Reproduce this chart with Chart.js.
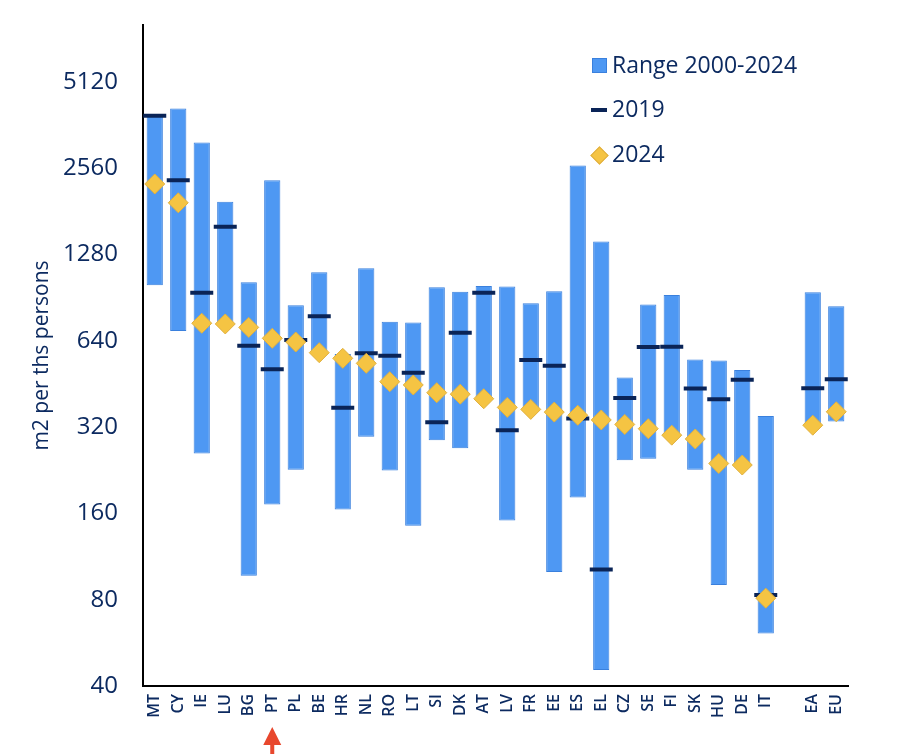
<!DOCTYPE html>
<html>
<head>
<meta charset="utf-8">
<script src="https://cdn.jsdelivr.net/npm/chart.js@4.4.1/dist/chart.umd.min.js"></script>
<style>
  html, body { margin: 0; padding: 0; background: #fff; }
  #wrap { position: relative; width: 900px; height: 754px; }
  .lg { position: absolute; font-family: 'Open Sans', sans-serif; font-size: 23px; line-height: 30px; color: #0c2a60; white-space: nowrap; }
  .mk { position: absolute; }
</style>
</head>
<body>
<div id="wrap">
  <canvas id="chart" width="900" height="754"></canvas>
  <div class="mk" style="left:592px;top:58px;width:13px;height:13px;background:#4e98f3;border:1px solid #3a80dd;"></div>
  <div class="lg" style="left:612px;top:49px;">Range 2000-2024</div>
  <div class="mk" style="left:591px;top:108px;width:16px;height:4px;background:#0a2457;"></div>
  <div class="lg" style="left:612px;top:93px;">2019</div>
  <div class="mk" style="left:593px;top:149px;width:11px;height:11px;background:#f5c443;border:1px solid #e0b040;transform:rotate(45deg);"></div>
  <div class="lg" style="left:612px;top:138px;">2024</div>
</div>
<script>
var countries = ['MT','CY','IE','LU','BG','PT','PL','BE','HR','NL','RO','LT','SI','DK','AT','LV','FR','EE','ES','EL','CZ','SE','FI','SK','HU','DE','IT','','EA','EU'];
var rangeMin = [1000,693,259,733,97,172,227,582,165,296,226,145,288,270,402,151,369,100,182,45.5,245,248,300,227,90,236,61,null,325,335];
var rangeMax = [3900,4140,3150,1956,1024,2324,851,1110,576,1146,746,742,984,949,994,990,865,953,2616,1422,477,857,925,551,547,506,350,null,945,845];
var value2019 = [3900,2324,942,1600,615,509,644,780,374,579,568,495,333,683,942,312,549,524,343,102,404,609,610,436,400,468,83,null,437,470];
var value2024 = [2256,1940,737,733,713,653,634,582,556,534,461,449,422,417,402,375,369,361,352,339,327,316,300,291,239,236,81,null,325,362];
var yTicks = [40,80,160,320,640,1280,2560,5120];

var navy = '#0c2a60';

var ranges = rangeMin.map(function(lo, i) {
  return lo === null ? null : [lo, rangeMax[i]];
});

// red arrow under PT
var arrowPlugin = {
  id: 'ptArrow',
  afterDraw: function(chart) {
    var ctx = chart.ctx;
    var x = chart.scales.x.getPixelForValue(countries.indexOf('PT'));
    ctx.save();
    ctx.fillStyle = '#e8472d';
    ctx.beginPath();
    ctx.moveTo(x, 727);
    ctx.lineTo(x + 9, 745);
    ctx.lineTo(x - 9, 745);
    ctx.closePath();
    ctx.fill();
    ctx.fillRect(x - 2, 744, 4, 12);
    ctx.restore();
  }
};

new Chart(document.getElementById('chart'), {
  type: 'bar',
  data: {
    labels: countries,
    datasets: [
      {
        label: 'Range 2000-2024',
        data: ranges,
        backgroundColor: '#4e98f3',
        borderColor: '#3a80dd',
        borderWidth: 1,
        borderSkipped: false,
        barPercentage: 0.69,
        categoryPercentage: 1,
        order: 3
      },
      {
        label: '2019',
        type: 'line',
        data: value2019,
        showLine: false,
        pointStyle: 'line',
        pointRadius: 11.5,
        pointBorderWidth: 4,
        borderColor: '#0a2457',
        backgroundColor: '#0a2457',
        order: 2
      },
      {
        label: '2024',
        type: 'line',
        data: value2024,
        showLine: false,
        pointStyle: 'rectRot',
        pointRadius: 10,
        pointBorderWidth: 1,
        borderColor: '#e0b040',
        backgroundColor: '#f5c443',
        order: 1
      }
    ]
  },
  options: {
    responsive: false,
    animation: false,
    layout: { padding: { top: 25, right: 52, left: 0, bottom: 0 } },
    plugins: { legend: { display: false }, tooltip: { enabled: false } },
    scales: {
      x: {
        grid: { display: false, drawTicks: false },
        border: { display: true, color: '#000', width: 2 },
        afterFit: function(s) { s.height = 68; },
        ticks: {
          autoSkip: false,
          minRotation: 90,
          maxRotation: 90,
          padding: 8,
          color: navy,
          font: { family: 'Open Sans', size: 16, weight: '600' }
        }
      },
      y: {
        type: 'logarithmic',
        min: 40,
        max: 8090,
        afterBuildTicks: function(s) {
          s.ticks = yTicks.map(function(v) { return { value: v }; });
        },
        afterFit: function(s) {
          s.width = 143;
          s.paddingTop = 0;
          s.paddingBottom = 0;
        },
        grid: { display: false, drawTicks: false },
        border: { display: true, color: '#000', width: 2 },
        ticks: {
          padding: 25,
          color: navy,
          font: { family: 'Open Sans', size: 24 },
          callback: function(v) { return String(v); }
        },
        title: {
          display: true,
          text: 'm2 per ths persons',
          color: navy,
          font: { family: 'Open Sans', size: 21 },
          padding: { top: 29, bottom: 0 }
        }
      }
    }
  },
  plugins: [arrowPlugin]
});
</script>
</body>
</html>
